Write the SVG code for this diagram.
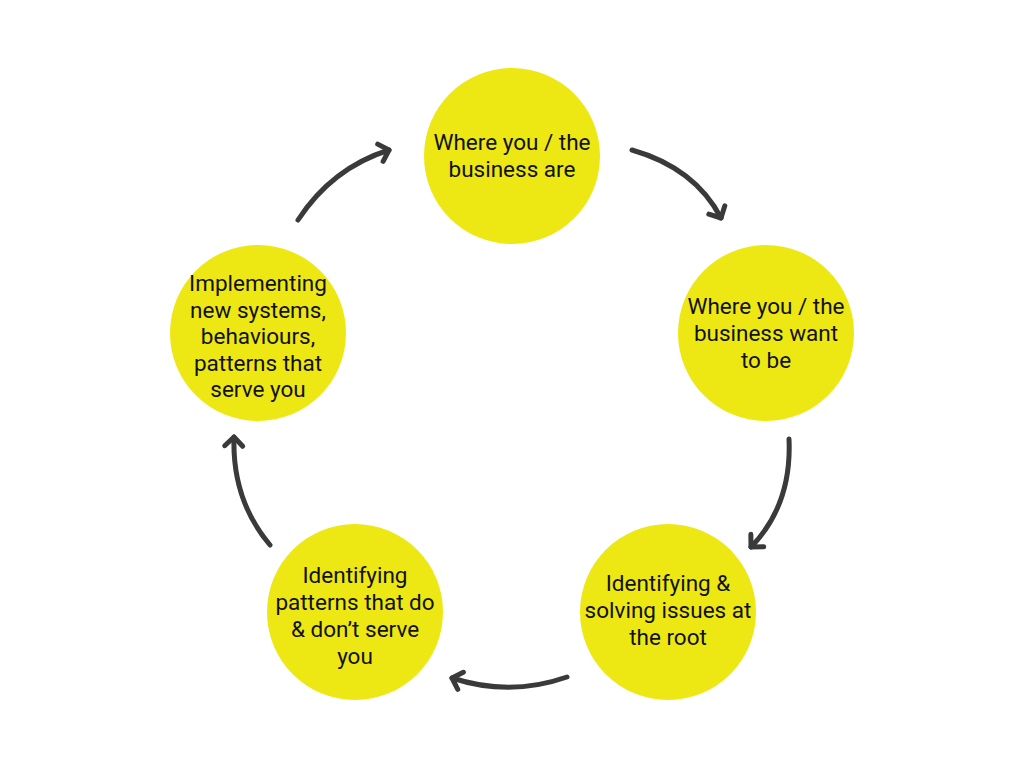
<svg xmlns="http://www.w3.org/2000/svg" width="1024" height="768" viewBox="0 0 1024 768">
<defs>
<style>
.node circle{fill:#EDE813;}
.node text{font-family:Roboto,"Liberation Sans",sans-serif;font-size:22.5px;fill:#111;text-anchor:middle;}
.arr{fill:none;stroke:#3a3a3a;stroke-width:5;stroke-linecap:round;marker-end:url(#head);}
</style>
<marker id="head" markerUnits="userSpaceOnUse" markerWidth="30" markerHeight="30" refX="15" refY="15" orient="auto" viewBox="0 0 30 30">
<path d="M6,6 L15,15 L6,24" fill="none" stroke="#3a3a3a" stroke-width="5" stroke-linecap="round" stroke-linejoin="round"/>
</marker>
</defs>
<rect width="1024" height="768" fill="#fff"/>
<g id="connectors">
<path class="arr" d="M632,150 Q695,168 721,218"/>
<path class="arr" d="M789,439 Q792,505 751,547"/>
<path class="arr" d="M567,677 Q510,697 452,678"/>
<path class="arr" d="M270,545 Q232,500 234,437"/>
<path class="arr" d="M298,220 Q332,168 389,150"/>
</g>
<g id="node1" class="node">
<circle cx="512" cy="156" r="88"/>
<text x="512" y="150">Where you / the</text>
<text x="512" y="177">business are</text>
</g>
<g id="node2" class="node">
<circle cx="766" cy="333" r="88"/>
<text x="766" y="314">Where you / the</text>
<text x="766" y="341">business want</text>
<text x="766" y="368">to be</text>
</g>
<g id="node3" class="node">
<circle cx="668" cy="612" r="88"/>
<text x="668" y="591">Identifying &amp;</text>
<text x="668" y="618">solving issues at</text>
<text x="668" y="645">the root</text>
</g>
<g id="node4" class="node">
<circle cx="355" cy="612" r="88"/>
<text x="355" y="583">Identifying</text>
<text x="355" y="610">patterns that do</text>
<text x="355" y="637">&amp; don’t serve</text>
<text x="355" y="664">you</text>
</g>
<g id="node5" class="node">
<circle cx="258" cy="333" r="88"/>
<text x="258" y="291">Implementing</text>
<text x="258" y="318">new systems,</text>
<text x="258" y="344">behaviours,</text>
<text x="258" y="371">patterns that</text>
<text x="258" y="397">serve you</text>
</g>
</svg>
